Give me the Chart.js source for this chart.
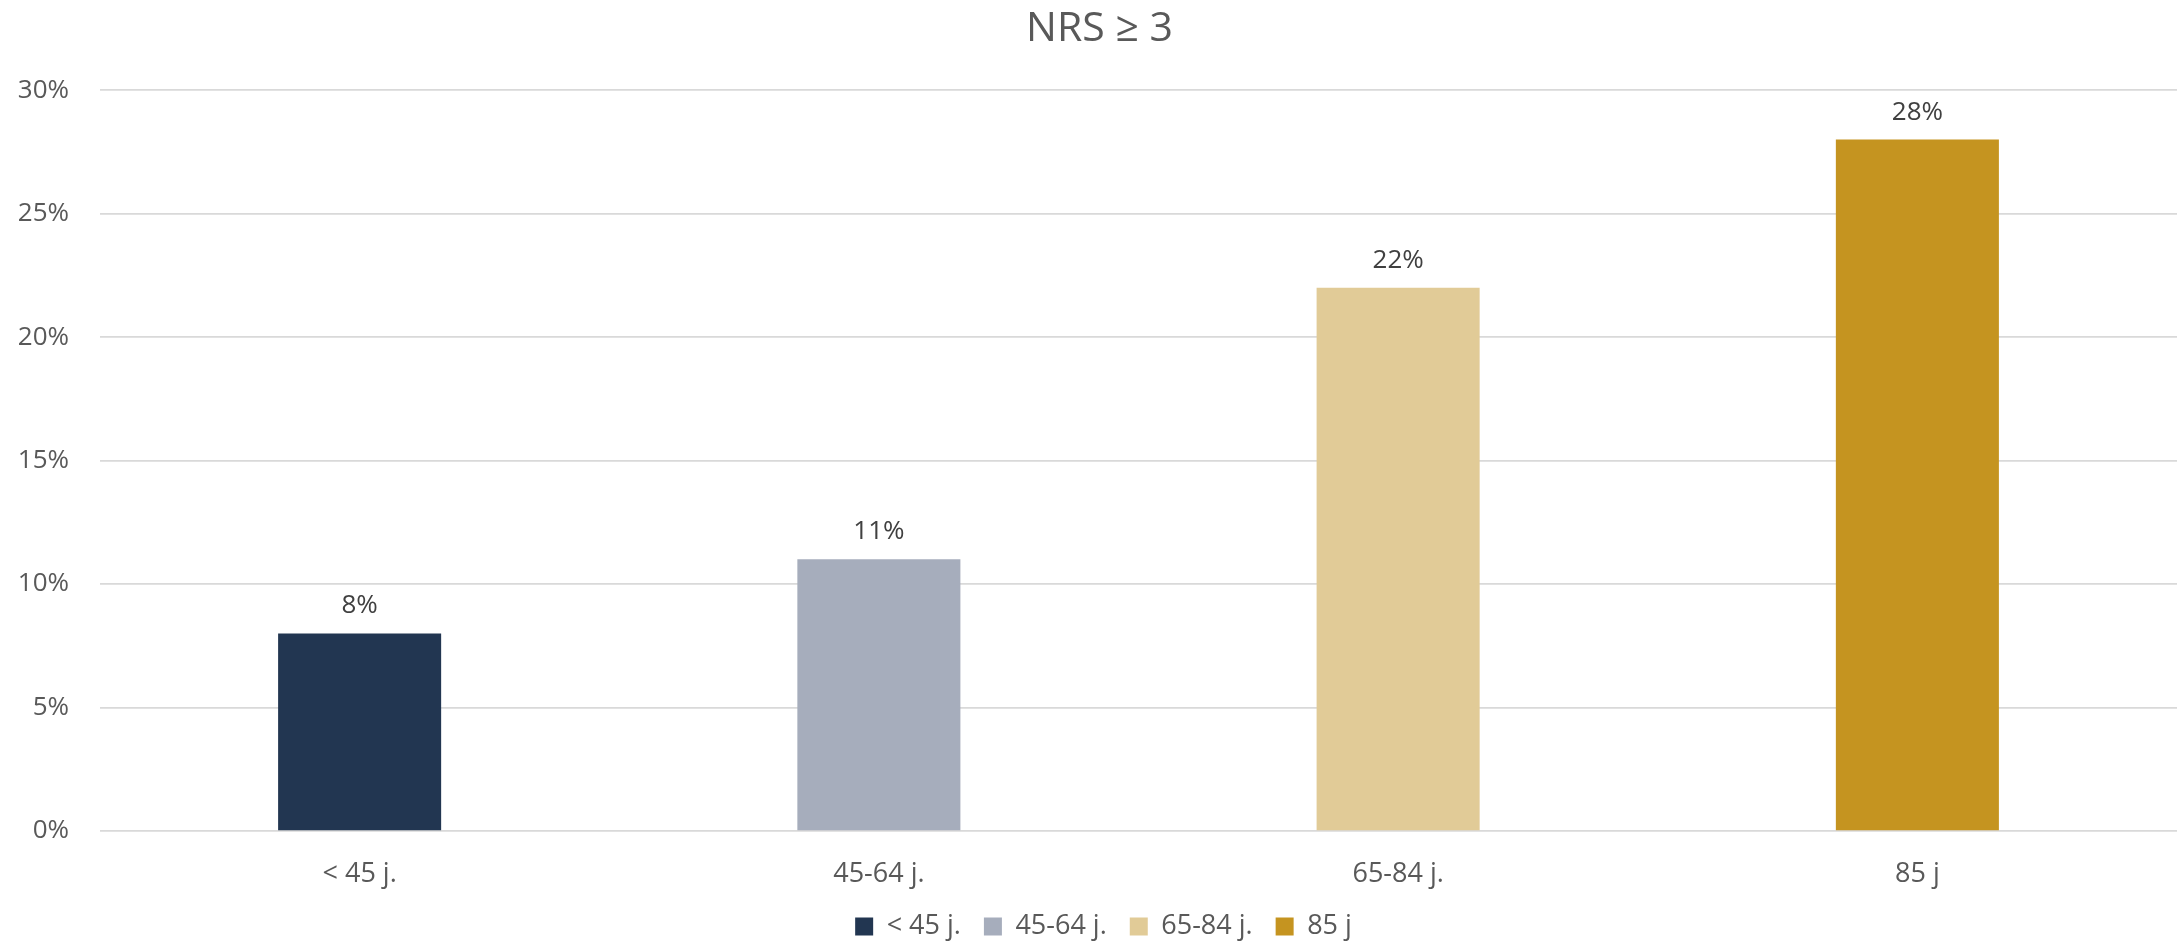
<!DOCTYPE html>
<html>
<head>
<meta charset="utf-8">
<script src="https://cdn.jsdelivr.net/npm/chart.js@4.4.1/dist/chart.umd.min.js"></script>
<style>
  html, body { margin: 0; padding: 0; background: #ffffff; }
  #wrap { width: 2183px; height: 950px; }
</style>
</head>
<body>
<div id="wrap"><canvas id="nrsChart" width="2183" height="950"></canvas></div>
<script>
// data
const categories = ['< 45 j.', '45-64 j.', '65-84 j.', '85 j'];
const nrsValues = [8, 11, 22, 28];
const barColors = ['#223651', '#A6ADBC', '#E1CB97', '#C59420'];
const yTicks = [0, 5, 10, 15, 20, 25, 30];

const FONT = "'Open Sans', sans-serif";

// draws the % labels above each bar
const valueLabels = {
  id: 'valueLabels',
  afterDatasetsDraw(chart) {
    const ctx = chart.ctx;
    const meta = chart.getDatasetMeta(0);
    ctx.save();
    ctx.font = '26px ' + FONT;
    ctx.fillStyle = '#404040';
    ctx.textAlign = 'center';
    ctx.textBaseline = 'alphabetic';
    meta.data.forEach(function(bar, i) {
      ctx.fillText(nrsValues[i] + '%', bar.x, bar.y - 20);
    });
    ctx.restore();
  }
};

// nudge title and legend a little to the right, like the original
const shiftBlocks = {
  id: 'shiftBlocks',
  afterLayout(chart) {
    if (chart.titleBlock) chart.titleBlock.left += 22;
    if (chart.legend) chart.legend.left += 30;
  }
};

new Chart(document.getElementById('nrsChart').getContext('2d'), {
  type: 'bar',
  data: {
    labels: categories,
    datasets: [{
      data: nrsValues,
      backgroundColor: barColors,
      categoryPercentage: 1,
      barPercentage: 0.314
    }]
  },
  options: {
    responsive: false,
    animation: false,
    layout: { padding: { left: 0, right: 6, top: 0, bottom: 0 } },
    plugins: {
      title: {
        display: true,
        text: 'NRS ≥ 3',
        color: '#595959',
        font: { family: FONT, size: 41, weight: 'normal', lineHeight: 1.2 },
        padding: { top: 5, bottom: 36 }
      },
      legend: {
        display: true,
        position: 'bottom',
        labels: {
          color: '#595959',
          font: { family: FONT, size: 27 },
          boxWidth: 18,
          boxHeight: 18,
          padding: 23,
          generateLabels: function() {
            return categories.map(function(c, i) {
              return {
                text: c,
                fillStyle: barColors[i],
                strokeStyle: barColors[i],
                fontColor: '#595959',
                lineWidth: 0,
                index: i
              };
            });
          }
        }
      },
      tooltip: { enabled: false }
    },
    scales: {
      x: {
        grid: { display: false },
        border: { display: false },
        ticks: {
          color: '#595959',
          font: { family: FONT, size: 27 },
          padding: 19
        },
        afterFit: function(scale) { scale.height = 59; }
      },
      y: {
        min: 0,
        max: 30,
        afterBuildTicks: function(scale) {
          scale.ticks = yTicks.map(function(v) { return { value: v }; });
        },
        grid: { color: '#D9D9D9', lineWidth: 1.7, drawTicks: false },
        border: { display: false },
        ticks: {
          color: '#595959',
          font: { family: FONT, size: 26 },
          padding: 31,
          callback: function(value) { return value + '%'; }
        },
        afterFit: function(scale) { scale.width = 100; }
      }
    }
  },
  plugins: [valueLabels, shiftBlocks]
});
</script>
</body>
</html>
